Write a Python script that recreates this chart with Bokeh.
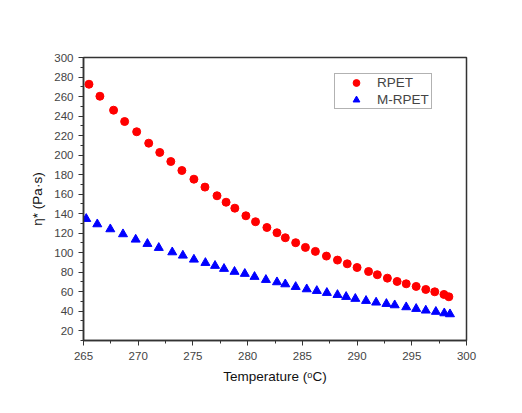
from bokeh.plotting import figure
from bokeh.models import Legend, LegendItem, Range1d, FixedTicker
from bokeh.embed import file_html
from bokeh.resources import INLINE

# RPET
rpet_t = [265.5, 266.5, 267.75, 268.76, 269.86, 270.96, 271.97, 272.98, 273.99, 275.09,
          276.1, 277.2, 278.03, 278.83, 279.84, 280.72, 281.76, 282.68, 283.44, 284.39,
          285.28, 286.19, 287.2, 288.21, 289.1, 290.0, 291.05, 291.85, 292.77, 293.66,
          294.49, 295.4, 296.28, 297.1, 297.94, 298.39]
rpet_eta = [272.6, 260.3, 246.0, 234.4, 223.9, 212.2, 202.7, 193.4, 184.2, 175.3,
            167.2, 158.3, 151.7, 145.6, 137.8, 131.7, 125.8, 120.4, 115.3, 110.2,
            105.4, 101.3, 96.5, 92.4, 88.6, 84.8, 80.7, 77.4, 73.9, 70.5,
            68.1, 65.4, 62.3, 59.9, 57.2, 54.8]

# M-RPET
mrpet_t = [265.25, 266.26, 267.45, 268.61, 269.77, 270.84, 271.88, 273.11, 274.08, 275.09,
           276.14, 277.02, 277.84, 278.8, 279.74, 280.63, 281.67, 282.68, 283.44, 284.39,
           285.4, 286.32, 287.24, 288.21, 289.0, 289.84, 290.82, 291.74, 292.68, 293.44,
           294.49, 295.4, 296.28, 297.2, 297.97, 298.49]
mrpet_eta = [134.7, 129.2, 124.1, 119.0, 113.5, 109.1, 105.0, 100.5, 97.1, 93.0,
             89.6, 86.6, 83.5, 80.5, 78.4, 75.3, 72.2, 69.8, 67.7, 65.0,
             62.6, 60.9, 58.9, 56.8, 54.8, 52.8, 50.7, 49.0, 47.6, 46.2,
             44.2, 42.5, 40.8, 39.5, 38.0, 37.0]

x_ticks = [265, 270, 275, 280, 285, 290, 295, 300]
y_ticks = [20, 40, 60, 80, 100, 120, 140, 160, 180, 200, 220, 240, 260, 280, 300]

p = figure(width=506, height=397, output_backend="svg", toolbar_location=None, tools="",
           x_range=Range1d(265, 300), y_range=Range1d(10, 300),
           min_border_left=83, min_border_right=40, min_border_top=57, min_border_bottom=57)

r1 = p.scatter(rpet_t, rpet_eta, marker="circle", size=8, color="#ff0000")
r2 = p.scatter(mrpet_t, mrpet_eta, marker="triangle", size=9, color="#0000ff")

p.xgrid.grid_line_color = None
p.ygrid.grid_line_color = None
p.outline_line_color = "#333333"
p.outline_line_width = 1.5

p.xaxis.ticker = FixedTicker(ticks=x_ticks, minor_ticks=[267.5 + 5 * i for i in range(7)])
p.yaxis.ticker = FixedTicker(ticks=y_ticks, minor_ticks=[10 + 20 * i for i in range(15)])

for ax in [p.xaxis[0], p.yaxis[0]]:
    ax.axis_line_color = "#333333"
    ax.axis_line_width = 1.5
    ax.major_tick_line_color = "#333333"
    ax.minor_tick_line_color = "#333333"
    ax.major_tick_out = 5
    ax.major_tick_in = 0
    ax.minor_tick_out = 3
    ax.minor_tick_in = 0
    ax.major_label_text_font = "Liberation Sans"
    ax.major_label_text_font_size = "11.5px"
    ax.major_label_text_color = "#444444"
    ax.axis_label_text_font = "Liberation Sans"
    ax.axis_label_text_font_size = "13.5px"
    ax.axis_label_text_font_style = "normal"
    ax.axis_label_text_color = "#111111"

p.xaxis.axis_label = "Temperature (\u1d52C)"
p.yaxis.axis_label = "\u03b7* (Pa\u00b7s)"
p.xaxis.major_label_standoff = 6
p.yaxis.major_label_standoff = 5
p.xaxis.axis_label_standoff = 6
p.yaxis.axis_label_standoff = 6

legend = Legend(items=[LegendItem(label="RPET", renderers=[r1]),
                       LegendItem(label="M-RPET", renderers=[r2])],
                location=(251, 231))
legend.label_text_font = "Liberation Sans"
legend.label_text_font_size = "13.5px"
legend.border_line_color = "#666666"
legend.border_line_width = 1
legend.padding = 0
legend.spacing = -4
legend.label_height = 12
legend.glyph_height = 17
legend.glyph_width = 42
legend.label_width = 54
legend.label_standoff = 0
legend.margin = 0
p.add_layout(legend, "center")

open("out.html", "w").write(file_html(p, INLINE))
